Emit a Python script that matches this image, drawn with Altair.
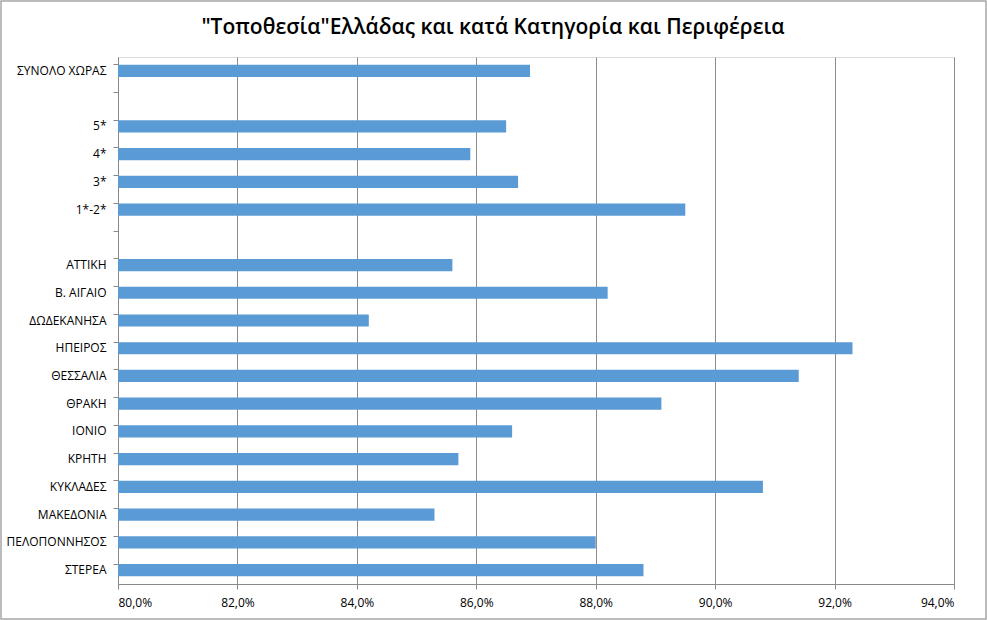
import altair as alt
import pandas as pd

title_text = '"Τοποθεσία"Ελλάδας και κατά Κατηγορία και Περιφέρεια'
categories = ["ΣΥΝΟΛΟ ΧΩΡΑΣ", " ", "5*", "4*", "3*", "1*-2*", "  ",
              "ΑΤΤΙΚΗ", "Β. ΑΙΓΑΙΟ", "ΔΩΔΕΚΑΝΗΣΑ", "ΗΠΕΙΡΟΣ", "ΘΕΣΣΑΛΙΑ",
              "ΘΡΑΚΗ", "ΙΟΝΙΟ", "ΚΡΗΤΗ", "ΚΥΚΛΑΔΕΣ", "ΜΑΚΕΔΟΝΙΑ",
              "ΠΕΛΟΠΟΝΝΗΣΟΣ", "ΣΤΕΡΕΑ"]
values = [0.869, None, 0.865, 0.859, 0.867, 0.895, None,
          0.856, 0.882, 0.842, 0.923, 0.914,
          0.891, 0.866, 0.857, 0.908, 0.853,
          0.880, 0.888]
x_ticks = [0.80, 0.82, 0.84, 0.86, 0.88, 0.90, 0.92, 0.94]

df = pd.DataFrame({"cat": categories, "val": values})
df["base"] = 0.80

font = "Open Sans"

bars = alt.Chart(df).mark_bar(color="#5b9bd5").encode(
    y=alt.Y("cat:N", title=None,
            scale=alt.Scale(domain=categories, paddingInner=0.56, paddingOuter=0.28),
            axis=alt.Axis(labelFont=font, labelFontSize=12, labelColor="#000000",
                          labelPadding=7, domainColor="#888888", tickColor="#888888",
                          tickSize=5, bandPosition=0, grid=False)),
    x=alt.X("val:Q", title=None,
            scale=alt.Scale(domain=[0.80, 0.94], nice=False, zero=False),
            axis=alt.Axis(values=x_ticks, labelFont=font, labelFontSize=12,
                          labelColor="#000000", labelPadding=8,
                          labelExpr="replace(format(datum.value, '.1%'), '.', ',')",
                          domainColor="#888888", tickColor="#888888", tickSize=5,
                          grid=True, gridColor="#8c8c8c", gridWidth=1)),
    x2="base:Q",
).transform_filter("datum.val != null")

one = pd.DataFrame({"f": [0]})

frame = alt.Chart(one).mark_rect(
    fill=None, stroke="#a6a6a6", strokeWidth=1.5
).encode(
    x=alt.value(-117), x2=alt.value(868), y=alt.value(-56), y2=alt.value(562)
)

title = alt.Chart(one).mark_text(
    font=font, fontSize=21, fontWeight=600, color="#000000",
    align="center", baseline="middle"
).encode(
    x=alt.value(375), y=alt.value(-29), text=alt.value(title_text)
)

chart = alt.layer(bars, frame, title).properties(
    width=836, height=527,
    autosize=alt.AutoSizeParams(type="none"),
    padding={"left": 118, "top": 57, "right": 33, "bottom": 36},
).configure_view(stroke=None).configure(background="#ffffff")

chart.save("out.html", embed_options={"renderer": "svg", "actions": False})
